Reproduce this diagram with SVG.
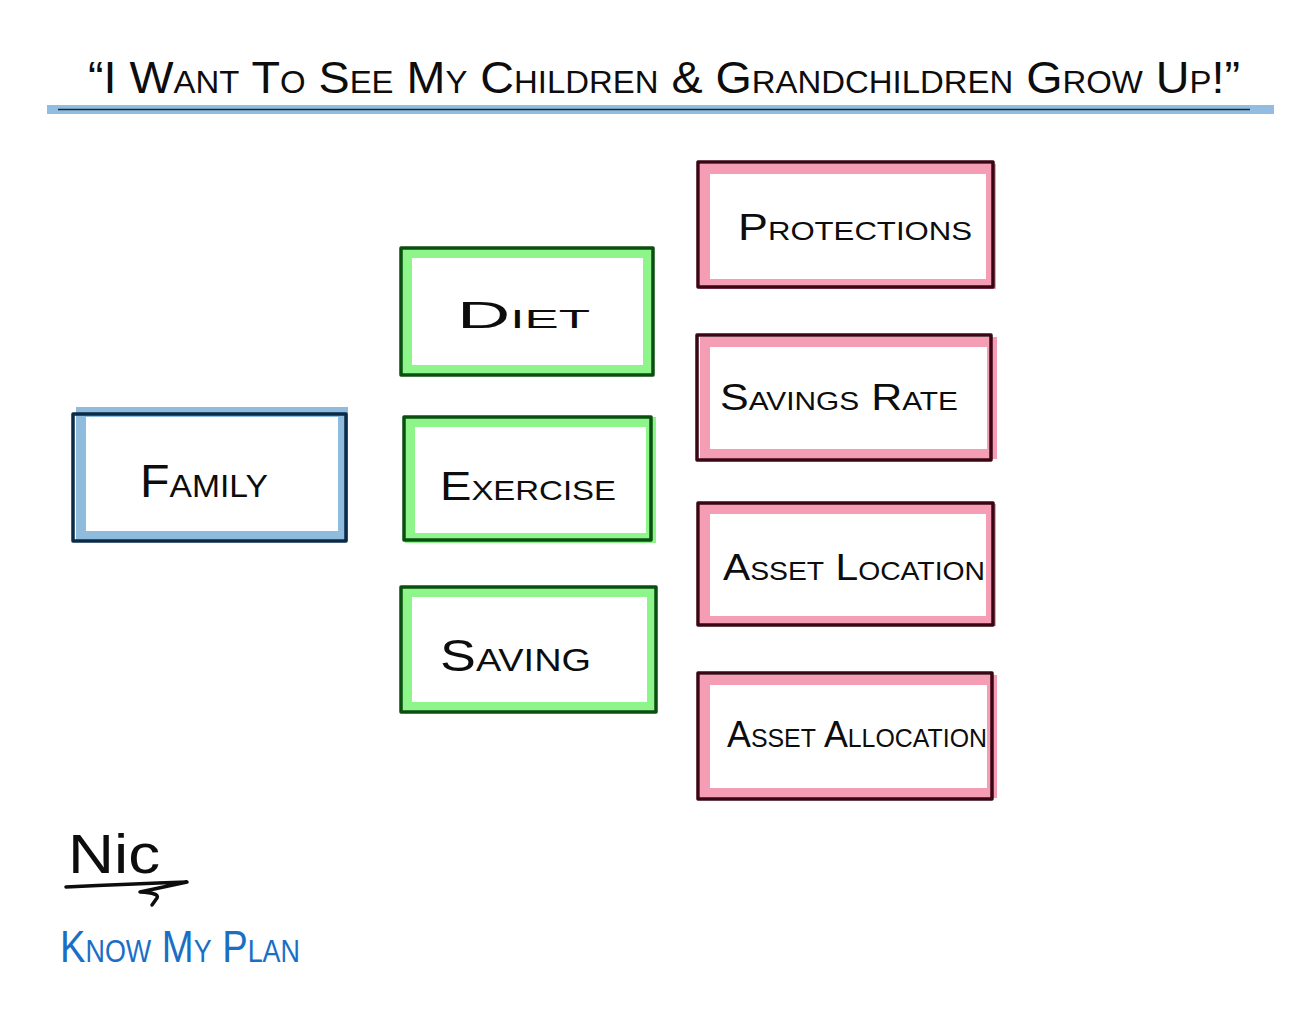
<svg xmlns="http://www.w3.org/2000/svg" width="1301" height="1027" viewBox="0 0 1301 1027">
<style>
  .hand{font-family:"Liberation Sans","DejaVu Sans",sans-serif;font-variant:small-caps;fill:#0d0d0d;text-anchor:start}
  .band{fill:none;stroke-width:10;stroke-linejoin:miter}
  .blueB{stroke:#8fbbdc}
  .greenB{stroke:#8df58a}
  .pinkB{stroke:#f59db4}
  .edge{fill:none;stroke-width:3.5;stroke-linecap:round;stroke-linejoin:round}
  .navy{stroke:#0b2a47}
  .dgreen{stroke:#0a4f10}
  .maroon{stroke:#3a0614}
</style>
<rect width="1301" height="1027" fill="#ffffff"/>

<g id="title">
  <rect x="47" y="105" width="1227" height="9" fill="#93bde0"/>
  <line x1="58" y1="109.5" x2="1250" y2="109.5" stroke="#1a2a38" stroke-width="1.5"/>
  <text class="hand" x="88" y="93" font-size="44" textLength="1152" lengthAdjust="spacingAndGlyphs">“I Want To See My Children &amp; Grandchildren Grow Up!”</text>
</g>

<g id="connectors"></g>

<g id="family">
  <rect class="band blueB" x="81" y="412" width="262" height="124"/>
  <rect class="edge navy" x="73" y="414" width="273" height="127"/>
  <text class="hand" x="140" y="497" font-size="46" textLength="128" lengthAdjust="spacingAndGlyphs">Family</text>
</g>

<g id="diet">
  <rect class="band greenB" x="407" y="253" width="241" height="117"/>
  <rect class="edge dgreen" x="401" y="248" width="252" height="127"/>
  <text class="hand" x="457" y="328" font-size="36" textLength="133" lengthAdjust="spacingAndGlyphs">Diet</text>
</g>

<g id="exercise">
  <rect class="band greenB" x="410" y="422" width="241" height="116"/>
  <rect class="edge dgreen" x="404" y="417" width="247" height="123"/>
  <text class="hand" x="440" y="500" font-size="40" textLength="176" lengthAdjust="spacingAndGlyphs">Exercise</text>
</g>

<g id="saving">
  <rect class="band greenB" x="407" y="592" width="245" height="115"/>
  <rect class="edge dgreen" x="401" y="587" width="255" height="125"/>
  <text class="hand" x="440" y="671" font-size="44" textLength="151" lengthAdjust="spacingAndGlyphs">Saving</text>
</g>

<g id="protections">
  <rect class="band pinkB" x="705" y="169" width="286" height="115"/>
  <rect class="edge maroon" x="698" y="162" width="295" height="125"/>
  <text class="hand" x="738" y="240" font-size="36" textLength="234" lengthAdjust="spacingAndGlyphs">Protections</text>
</g>

<g id="savings-rate">
  <rect class="band pinkB" x="705" y="342" width="287" height="112"/>
  <rect class="edge maroon" x="697" y="335" width="294" height="125"/>
  <text class="hand" x="720" y="410" font-size="36" textLength="238" lengthAdjust="spacingAndGlyphs">Savings Rate</text>
</g>

<g id="asset-location">
  <rect class="band pinkB" x="705" y="509" width="286" height="112"/>
  <rect class="edge maroon" x="698" y="503" width="295" height="122"/>
  <text class="hand" x="723" y="580" font-size="36" textLength="262" lengthAdjust="spacingAndGlyphs">Asset Location</text>
</g>

<g id="asset-allocation">
  <rect class="band pinkB" x="705" y="680" width="287" height="113"/>
  <rect class="edge maroon" x="698" y="673" width="294" height="126"/>
  <text class="hand" x="727" y="747" font-size="36" textLength="260" lengthAdjust="spacingAndGlyphs">Asset Allocation</text>
</g>

<g id="signature">
  <text x="68" y="873" font-family="Liberation Sans, sans-serif" font-size="56" fill="#0d0d0d" textLength="92" lengthAdjust="spacingAndGlyphs">Nic</text>
  <path d="M66 887 Q130 884 187 882 L140 892 Q160 893 157 898 L152 905" fill="none" stroke="#0d0d0d" stroke-width="3.5" stroke-linecap="round" stroke-linejoin="round"/>
  <text x="60" y="962" font-family="Liberation Sans, sans-serif" font-variant="small-caps" font-size="44" fill="#1a6fc4" textLength="240" lengthAdjust="spacingAndGlyphs">Know My Plan</text>
</g>
</svg>
